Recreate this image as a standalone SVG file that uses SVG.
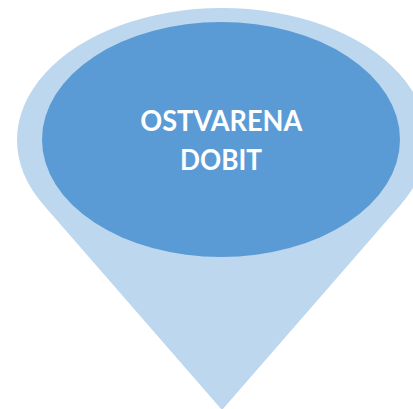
<svg xmlns="http://www.w3.org/2000/svg" width="413" height="409" viewBox="0 0 413 409">
  <style>
    .pin { fill: #BDD7EE; }
    .core { fill: #5B9BD5; }
    .label { fill: #FFFFFF; font-family: "Lato", "Open Sans", "Liberation Sans", sans-serif; font-weight: bold; font-size: 28px; text-anchor: middle; }
  </style>
  <rect width="413" height="409" fill="#FFFFFF"/>
  <g id="node-ostvarena-dobit">
    <path class="pin" d="M 43.6 205 A 205 132 0 1 1 400.4 205 L 222 410 Z"/>
    <ellipse class="core" cx="221" cy="139.5" rx="179" ry="117.5"/>
    <text class="label" x="221.3" y="130.7" textLength="162" lengthAdjust="spacingAndGlyphs">OSTVARENA</text>
    <text class="label" x="221" y="170" textLength="82" lengthAdjust="spacingAndGlyphs">DOBIT</text>
  </g>
  <g id="connectors"></g>
</svg>
